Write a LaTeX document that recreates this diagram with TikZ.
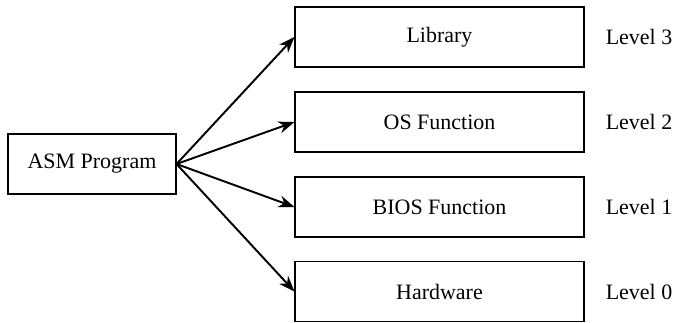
\documentclass[tikz,border=0pt]{standalone}
\usepackage{fontspec}
\setmainfont{Liberation Serif}
\usetikzlibrary{positioning, calc, arrows.meta}

\begin{document}
\begin{tikzpicture}[
    every node/.style={font=\fontsize{12.5}{14}\selectfont},
    layerbox/.style={draw, line width=0.6pt, inner sep=0pt, minimum width=5.78cm, minimum height=1.2cm},
    callarrow/.style={line width=1.1pt, -{Stealth[length=3.2mm, width=2.4mm]}}
  ]
    \useasboundingbox (0,0) rectangle (13.52,-6.44);
    \node[draw, line width=0.6pt, inner sep=0pt, minimum width=3.36cm, minimum height=1.2cm] (asm) at (1.84,-3.28) {ASM Program};
    \node[layerbox] (lib) at (8.79,-0.74) {Library};
    \node[layerbox] (os) at (8.79,-2.44) {OS Function};
    \node[layerbox] (bios) at (8.79,-4.14) {BIOS Function};
    \node[layerbox] (hw) at (8.79,-5.83) {Hardware};
    \node (l3) at (12.78,-0.74) {Level 3};
    \node (l2) at (12.78,-2.44) {Level 2};
    \node (l1) at (12.78,-4.14) {Level 1};
    \node (l0) at (12.78,-5.83) {Level 0};
    \draw[callarrow] (asm.east) -- (lib.west);
    \draw[callarrow] (asm.east) -- (os.west);
    \draw[callarrow] (asm.east) -- (bios.west);
    \draw[callarrow] (asm.east) -- (hw.west);
\end{tikzpicture}
\end{document}
